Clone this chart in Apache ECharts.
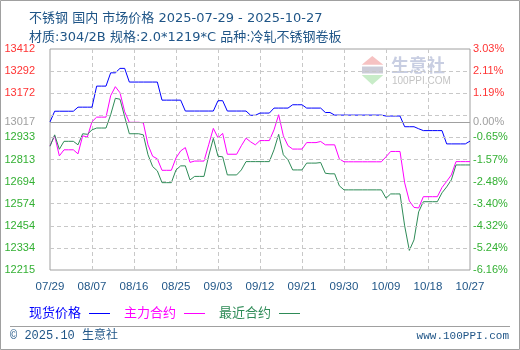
<!DOCTYPE html>
<html><head><meta charset="utf-8">
<script src="https://cdn.jsdelivr.net/npm/echarts@6/dist/echarts.min.js"></script>
<style>html,body{margin:0;padding:0;background:#fff}#c{width:520px;height:350px}</style>
</head><body><div id="c"></div>
<script>
const titleLine1 = '不锈钢 国内 市场价格 2025-07-29 - 2025-10-27';
const titleLine2 = '材质:304/2B 规格:2.0*1219*C 品种:冷轧不锈钢卷板';
const dates = [
'07/29','07/30','07/31','08/01','08/02','08/03','08/04','08/05','08/06','08/07',
'08/08','08/09','08/10','08/11','08/12','08/13','08/14','08/15','08/16','08/17',
'08/18','08/19','08/20','08/21','08/22','08/23','08/24','08/25','08/26','08/27',
'08/28','08/29','08/30','08/31','09/01','09/02','09/03','09/04','09/05','09/06',
'09/07','09/08','09/09','09/10','09/11','09/12','09/13','09/14','09/15','09/16',
'09/17','09/18','09/19','09/20','09/21','09/22','09/23','09/24','09/25','09/26',
'09/27','09/28','09/29','09/30','10/01','10/02','10/03','10/04','10/05','10/06',
'10/07','10/08','10/09','10/10','10/11','10/12','10/13','10/14','10/15','10/16',
'10/17','10/18','10/19','10/20','10/21','10/22','10/23','10/24','10/25','10/26','10/27'];
const seriesNames = ['现货价格','主力合约','最近合约'];
const spot = [
13017,13075,13075,13075,13075,13075,13097,13097,13097,13097,
13211,13211,13211,13283,13283,13307,13307,13233,13233,13233,
13233,13233,13233,13233,13135,13135,13135,13135,13135,13076,
13076,13076,13076,13076,13076,13076,13132,13132,13076,13076,
13076,13076,13076,13053,13053,13065,13065,13065,13092,13092,
13092,13092,13110,13110,13110,13092,13092,13092,13092,13068,
13068,13054,13054,13054,13054,13054,13054,13054,13054,13054,
13054,13054,13049,13049,13049,13049,12991,12991,12991,12980,
12970,12970,12970,12970,12970,12898,12898,12898,12898,12898,12913];
const mainContract = [
12888,12942,12833,12866,12866,12866,12844,12942,12935,13018,
13043,13043,13043,13159,13208,13175,13072,13015,13015,13015,
13012,12893,12831,12817,12755,12755,12755,12822,12860,12878,
12798,12805,12805,12805,12893,12982,12931,12955,12842,12842,
12842,12888,12929,12909,12893,12916,12916,12916,12974,13056,
12942,12888,12870,12870,12870,12905,12905,12905,12911,12893,
12893,12893,12817,12801,12801,12801,12801,12801,12801,12801,
12801,12801,12828,12857,12857,12857,12687,12589,12554,12551,
12612,12612,12612,12612,12662,12695,12730,12802,12802,12802,12802];
const nearContract = [
12885,12947,12869,12912,12912,12912,12893,12953,12950,12974,
12984,12984,12984,13056,13145,13140,13045,12953,12953,12953,
12947,12839,12775,12752,12688,12688,12688,12757,12779,12779,
12703,12722,12722,12722,12833,12928,12831,12828,12730,12730,
12730,12757,12802,12802,12802,12802,12802,12802,12866,12950,
12839,12812,12757,12757,12757,12794,12794,12794,12797,12739,
12736,12736,12671,12649,12649,12649,12649,12649,12649,12649,
12649,12649,12604,12627,12627,12627,12454,12321,12378,12530,
12585,12585,12585,12585,12633,12665,12703,12784,12784,12784,12784];
const yMin = 12215, yMax = 13412, baseValue = 13017;
const leftTickLabels = ['13412','13292','13172','','12933','12813','12694','12574','12454','12334','12215'];
const rightTickLabels = ['3.03%','2.11%','1.19%','','-0.65%','-1.57%','-2.48%','-3.40%','-4.32%','-5.24%','-6.16%'];
const baseLeftLabel = '13017', baseRightLabel = '0.00%';
const footerLeft = '© 2025.10 生意社', footerRight = 'www.100PPI.com';
const watermarkCn = '生意社', watermarkEn = '100PPI.COM';

const RED = '#ff3333', GREEN = '#33b033', GRAY = '#a0a0a0', NAVY = '#1f5587';
const CLEAR = 'rgba(0,0,0,0)';
const numFont = "'Liberation Sans', Arial, sans-serif";
const cnFont = "'DejaVu Sans','Noto Sans CJK SC',sans-serif";

const markData = [];
const n = leftTickLabels.length - 1;
for (let k = 0; k <= n; k++) {
  const v = yMax - k * (yMax - yMin) / n;
  const col = k < 3 ? RED : GREEN;
  const edge = (k === 0 || k === n);
  markData.push({yAxis: v,
    lineStyle: {type: [4, 3], color: edge ? CLEAR : '#c8c8c8', width: 1},
    label: {show: leftTickLabels[k] !== '', position: 'start', distance: 15, formatter: leftTickLabels[k], color: col, fontSize: 11, fontFamily: numFont}});
  markData.push({yAxis: v, lineStyle: {color: CLEAR, width: 1},
    label: {show: rightTickLabels[k] !== '', position: 'end', distance: 3, formatter: rightTickLabels[k], color: col, fontSize: 11, fontFamily: numFont}});
}
markData.push({yAxis: baseValue, lineStyle: {type: 'solid', color: '#a0a0a0', width: 1},
  label: {show: true, position: 'start', distance: 15, formatter: baseLeftLabel, color: GRAY, fontSize: 11, fontFamily: numFont}});
markData.push({yAxis: baseValue, lineStyle: {color: CLEAR, width: 1},
  label: {show: true, position: 'end', distance: 3, formatter: baseRightLabel, color: GRAY, fontSize: 11, fontFamily: numFont}});

const chart = echarts.init(document.getElementById('c'), null, {renderer: 'canvas'});
chart.setOption({
  animation: false,
  backgroundColor: '#fff',
  title: [
    {text: titleLine1, left: 24, top: 7, textStyle: {fontSize: 13, fontWeight: 'normal', color: NAVY, fontFamily: cnFont}},
    {text: titleLine2, left: 24, top: 26, textStyle: {fontSize: 13, fontWeight: 'normal', color: NAVY, fontFamily: cnFont}}
  ],
  grid: {left: 50, top: 49, width: 420, height: 221, show: true, borderColor: '#a0a0a0', borderWidth: 1, backgroundColor: 'transparent'},
  legend: {
    left: 24, top: 302, align: 'right', icon: 'rect', itemWidth: 21, itemHeight: 1, itemGap: 14,
    textStyle: {fontSize: 13, fontFamily: cnFont, padding: [0, 3, 0, 0]},
    data: [
      {name: seriesNames[0], textStyle: {color: '#0000ff'}},
      {name: seriesNames[1], textStyle: {color: '#ff00ff'}},
      {name: seriesNames[2], textStyle: {color: '#2e8b57'}}
    ]
  },
  xAxis: {
    type: 'category', data: dates, boundaryGap: false,
    axisLine: {show: false}, axisTick: {show: false},
    axisLabel: {interval: 8, color: NAVY, fontSize: 11.5, fontFamily: numFont, margin: 11},
    splitLine: {show: true, interval: (i) => i % 9 === 0 && i !== 0 && i !== dates.length - 1,
      lineStyle: {type: [4, 3], color: '#c8c8c8', width: 1}}
  },
  yAxis: {
    type: 'value', min: yMin, max: yMax,
    axisLine: {show: false}, axisTick: {show: false}, axisLabel: {show: false}, splitLine: {show: false}
  },
  graphic: [
    {type: 'rect', z: 100, shape: {x: 0.5, y: 0.5, width: 519, height: 349}, style: {fill: 'none', stroke: '#a0a0a0', lineWidth: 1}},
    {type: 'line', z: 100, shape: {x1: 10, y1: 326.5, x2: 510, y2: 326.5}, style: {stroke: '#a0a0a0', lineWidth: 1}},
    {type: 'text', z: 100, x: 10, y: 336, style: {text: footerLeft, font: "12px 'Liberation Mono','Noto Sans CJK SC',monospace", fill: NAVY, textVerticalAlign: 'middle'}},
    {type: 'text', z: 100, x: 509, y: 336, style: {text: footerRight, font: "11px 'Liberation Mono',monospace", fill: NAVY, textAlign: 'right', textVerticalAlign: 'middle'}},
    {type: 'polygon', z: 0, shape: {points: [[372.3, 56], [361.7, 64.7], [383.3, 64.7]]}, style: {fill: '#f6c2c2'}},
    {type: 'rect', z: 0, shape: {x: 362, y: 66.5, width: 21, height: 7}, style: {fill: '#ccccd8'}},
    {type: 'polygon', z: 0, shape: {points: [[361.7, 75], [383.3, 75], [372.3, 84.7]]}, style: {fill: '#c8ecc8'}},
    {type: 'text', z: 0, x: 391, y: 65.5, style: {text: watermarkCn, font: "bold 18px 'Noto Sans CJK SC',sans-serif", fill: '#c8cee2', textVerticalAlign: 'middle', letterSpacing: 2}},
    {type: 'text', z: 0, x: 392, y: 81, style: {text: watermarkEn, font: "10px 'Liberation Sans',sans-serif", fill: '#c4c4c4', textVerticalAlign: 'middle'}}
  ],
  series: [
    {name: 'grid-lines', type: 'line', data: [], z: 1, silent: true,
      markLine: {silent: true, symbol: ['none', 'none'], animation: false, data: markData}},
    {name: seriesNames[0], type: 'line', data: spot, showSymbol: false, symbol: 'none', z: 4,
      itemStyle: {color: '#0000ff'}, lineStyle: {color: '#0000ff', width: 1}},
    {name: seriesNames[1], type: 'line', data: mainContract, showSymbol: false, symbol: 'none', z: 3,
      itemStyle: {color: '#ff00ff'}, lineStyle: {color: '#ff00ff', width: 1}},
    {name: seriesNames[2], type: 'line', data: nearContract, showSymbol: false, symbol: 'none', z: 3,
      itemStyle: {color: '#2e8b57'}, lineStyle: {color: '#2e8b57', width: 1}}
  ]
});
</script></body></html>
